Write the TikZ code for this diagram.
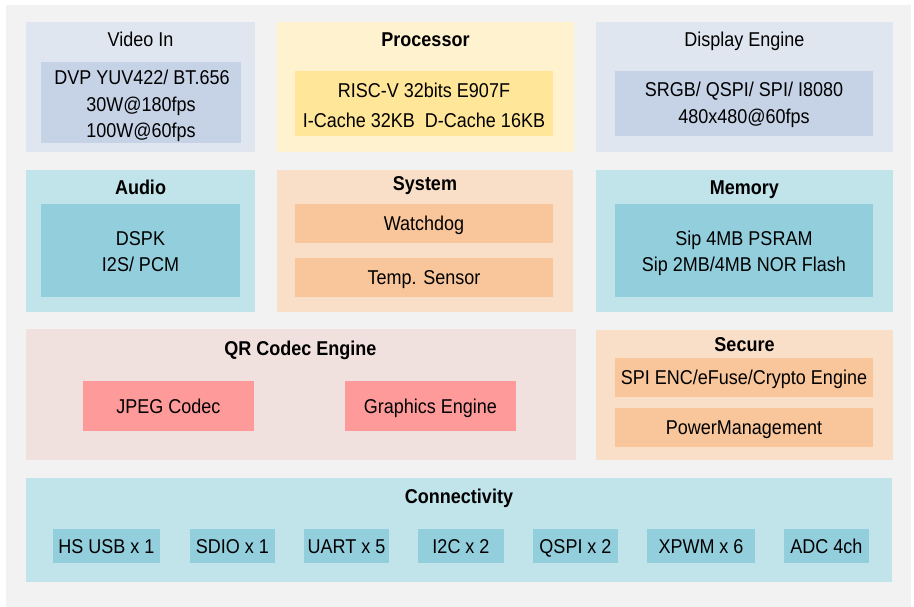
\documentclass[tikz,border=0pt]{standalone}
\usepackage{fontspec}
\setmainfont[FakeStretch=0.9]{Liberation Sans}
\usetikzlibrary{fit}
\definecolor{bgc}{HTML}{F2F2F2}
\definecolor{vidO}{HTML}{E0E6F0}
\definecolor{vidI}{HTML}{C6D3E7}
\definecolor{proO}{HTML}{FFF2CE}
\definecolor{proI}{HTML}{FFE699}
\definecolor{cyaO}{HTML}{C1E3EA}
\definecolor{cyaI}{HTML}{93CEDD}
\definecolor{orgO}{HTML}{FADFC8}
\definecolor{orgI}{HTML}{F9C59A}
\definecolor{qrO}{HTML}{F1E1DE}
\definecolor{qrI}{HTML}{FF9A9A}
\begin{document}
\begin{tikzpicture}[x=1pt,y=-1pt,
  blk/.style={inner sep=0pt, outer sep=0pt, draw=none},
  txt/.style={anchor=base, inner sep=0pt, font=\fontsize{20}{24}\selectfont},
  ttl/.style={anchor=base, inner sep=0pt, font=\fontsize{20}{24}\selectfont\bfseries}]
\useasboundingbox (0,0) rectangle (914,607);
\fill[bgc] (6,5) rectangle (911,607);

% Row 1
\node[blk, fill=vidO, fit={(26,22)(255,152)}] (video) {};
\node[blk, fill=vidI, fit={(41,62)(241,143)}] (videoi) {};
\node[txt] (tvideo) at (140.5,47) {Video In};
\node[txt] (v1) at (142,84.5) {DVP YUV422/ BT.656};
\node[txt] (v2) at (141,111.5) {30W@180fps};
\node[txt] (v3) at (141,137.5) {100W@60fps};

\node[blk, fill=proO, fit={(277,22)(574,152)}] (proc) {};
\node[blk, fill=proI, fit={(295,71)(553,136)}] (proci) {};
\node[ttl] (tproc) at (425.5,47) {Processor};
\node[txt] (p1) at (424,98) {RISC-V 32bits E907F};
\node[txt] (p2) at (424,127.5) {I-Cache 32KB\ \ D-Cache 16KB};

\node[blk, fill=vidO, fit={(596,22)(893,152)}] (disp) {};
\node[blk, fill=vidI, fit={(615,71)(873,136)}] (dispi) {};
\node[txt] (tdisp) at (744.5,47) {Display Engine};
\node[txt] (d1) at (744,97) {SRGB/ QSPI/ SPI/ I8080};
\node[txt] (d2) at (744,124) {480x480@60fps};

% Row 2
\node[blk, fill=cyaO, fit={(26,170)(255,312)}] (audio) {};
\node[blk, fill=cyaI, fit={(41,204)(240,297)}] (audioi) {};
\node[ttl] (taudio) at (140.5,195) {Audio};
\node[txt] (a1) at (140.5,245) {DSPK};
\node[txt] (a2) at (140.5,272) {I2S/ PCM};

\node[blk, fill=orgO, fit={(277,170)(573,312)}] (sys) {};
\node[blk, fill=orgI, fit={(295,204)(553,243)}] (wdog) {};
\node[blk, fill=orgI, fit={(295,258)(553,297)}] (temp) {};
\node[ttl] (tsys) at (425,191) {System};
\node[txt] (s1) at (424,230.5) {Watchdog};
\node[txt] (s2) at (424,284.5) {Temp. Sensor};

\node[blk, fill=cyaO, fit={(596,170)(893,312)}] (mem) {};
\node[blk, fill=cyaI, fit={(615,204)(873,297)}] (memi) {};
\node[ttl] (tmem) at (744.5,195) {Memory};
\node[txt] (m1) at (744,245) {Sip 4MB PSRAM};
\node[txt] (m2) at (744,272) {Sip 2MB/4MB NOR Flash};

% Row 3
\node[blk, fill=qrO, fit={(26,329)(576,460)}] (qr) {};
\node[blk, fill=qrI, fit={(83,381)(254,431)}] (jpeg) {};
\node[blk, fill=qrI, fit={(345,381)(516,431)}] (gfx) {};
\node[ttl] (tqr) at (300.5,355) {QR Codec Engine};
\node[txt] (q1) at (168.5,413) {JPEG Codec};
\node[txt] (q2) at (430.5,413) {Graphics Engine};

\node[blk, fill=orgO, fit={(596,330)(893,460)}] (sec) {};
\node[blk, fill=orgI, fit={(615,358)(873,397)}] (spi) {};
\node[blk, fill=orgI, fit={(615,408)(873,447)}] (pwr) {};
\node[ttl] (tsec) at (744.5,351) {Secure};
\node[txt] (e1) at (744,384.5) {SPI ENC/eFuse/Crypto Engine};
\node[txt] (e2) at (744,434.5) {PowerManagement};

% Row 4
\node[blk, fill=cyaO, fit={(26,478)(892,582)}] (conn) {};
\node[ttl] (tconn) at (459,503) {Connectivity};
\node[blk, fill=cyaI, fit={(53,529)(160,563)}] (c1) {};
\node[blk, fill=cyaI, fit={(190,529)(275,563)}] (c2) {};
\node[blk, fill=cyaI, fit={(304,529)(389,563)}] (c3) {};
\node[blk, fill=cyaI, fit={(418,529)(504,563)}] (c4) {};
\node[blk, fill=cyaI, fit={(533,529)(618,563)}] (c5) {};
\node[blk, fill=cyaI, fit={(647,529)(755,563)}] (c6) {};
\node[blk, fill=cyaI, fit={(784,529)(869,563)}] (c7) {};
\node[txt] at ([yshift=-7pt]c1.center) {HS USB x 1};
\node[txt] at ([yshift=-7pt]c2.center) {SDIO x 1};
\node[txt] at ([yshift=-7pt]c3.center) {UART x 5};
\node[txt] at ([yshift=-7pt]c4.center) {I2C x 2};
\node[txt] at ([yshift=-7pt]c5.center) {QSPI x 2};
\node[txt] at ([yshift=-7pt]c6.center) {XPWM x 6};
\node[txt] at ([yshift=-7pt]c7.center) {ADC 4ch};
\end{tikzpicture}
\end{document}
